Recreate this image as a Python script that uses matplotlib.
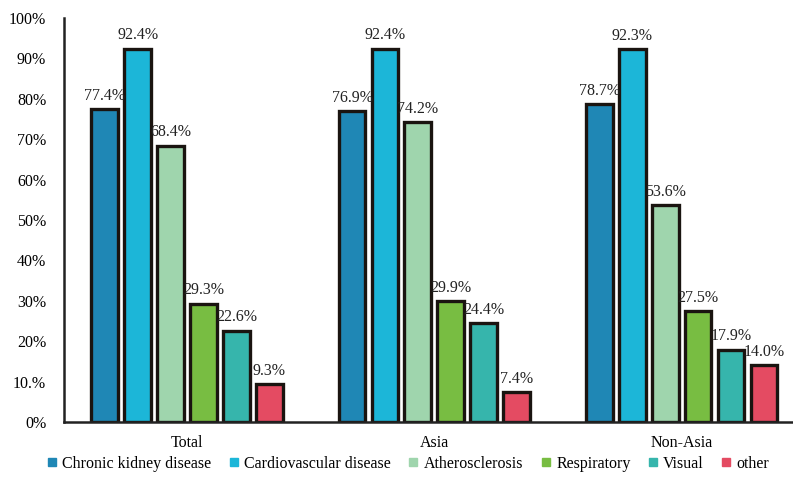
import numpy as np
from matplotlib import pyplot as plt

plt.rcParams['font.family'] = ['Liberation Serif', 'DejaVu Serif']

groups = ['Total', 'Asia', 'Non-Asia']
diseases = ['Chronic kidney disease', 'Cardiovascular disease', 'Atherosclerosis',
            'Respiratory', 'Visual', 'other']
ckd = [77.4, 76.9, 78.7]
cvd = [92.4, 92.4, 92.3]
athero = [68.4, 74.2, 53.6]
resp = [29.3, 29.9, 27.5]
visual = [22.6, 24.4, 17.9]
other = [9.3, 7.4, 14.0]
yticks = [0, 10, 20, 30, 40, 50, 60, 70, 80, 90, 100]
ytick_labels = ['0%', '10.%', '20%', '30%', '40%', '50%', '60%', '70%', '80%', '90%', '100%']

colors = ['#1f87b5', '#1cb6d8', '#9fd5ad', '#78bd42', '#36b5ac', '#e44b62']
series = [ckd, cvd, athero, resp, visual, other]

fig = plt.figure(figsize=(7.93, 4.84), dpi=100)
ax = fig.add_axes([0.081, 0.128, 0.919, 0.835])

x = np.arange(len(groups))
step = 0.133
width = 0.108
for i, (vals, c, name) in enumerate(zip(series, colors, diseases)):
    pos = x + (i - 2.5) * step
    ax.bar(pos, vals, width, color=c, edgecolor='#1a1410', linewidth=2.4, label=name)
    for p, v in zip(pos, vals):
        ax.text(p, v + 1.3, f'{v:.1f}%', ha='center', va='bottom', fontsize=11.5, color='#222222')

ax.set_xlim(-0.496, 2.45)
ax.set_ylim(0, 100)
ax.set_yticks(yticks)
ax.set_yticklabels(ytick_labels, fontsize=11.5)
ax.set_xticks(x)
ax.set_xticklabels(groups, fontsize=11.5)
ax.tick_params(axis='y', length=0, pad=13)
ax.tick_params(axis='x', length=0, pad=9)
for s in ['top', 'right']:
    ax.spines[s].set_visible(False)
ax.spines['left'].set_linewidth(1.8)
ax.spines['bottom'].set_linewidth(1.8)
ax.spines['left'].set_color('#222222')
ax.spines['bottom'].set_color('#222222')

handles = [plt.Line2D([], [], marker='s', linestyle='', markersize=6, color=c) for c in colors]
fig.legend(handles, diseases, loc='lower center', bbox_to_anchor=(0.515, -0.005), ncol=6,
           frameon=False, fontsize=11.5, handlelength=0.6, handletextpad=0.35,
           columnspacing=1.1)

plt.savefig('out.png', dpi=100)
